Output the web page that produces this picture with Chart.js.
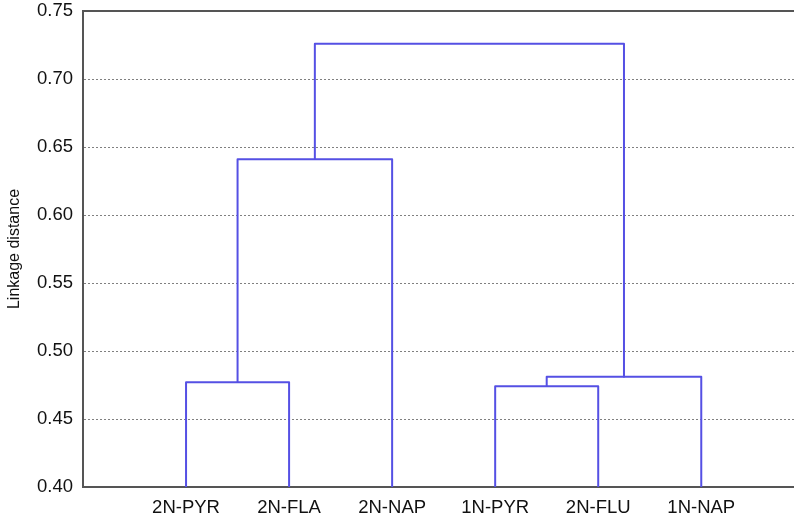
<!DOCTYPE html>
<html>
<head>
<meta charset="utf-8">
<script src="https://cdn.jsdelivr.net/npm/chart.js@4/dist/chart.umd.min.js"></script>
<style>
html,body{margin:0;padding:0;background:#fff;}
#c{display:block;}
</style>
</head>
<body>
<canvas id="c" width="794" height="521"></canvas>
<script>
// Leaves (in dendrogram order)
const leaves = ['2N-PYR', '2N-FLA', '2N-NAP', '1N-PYR', '2N-FLU', '1N-NAP'];
// Merge steps: cluster ids 0..5 are leaves, 6.. are merged clusters in order
const mergeA = [0, 3, 7, 6, 9];
const mergeB = [1, 4, 5, 2, 8];
const mergeHeight = [0.477, 0.474, 0.481, 0.641, 0.726];
// Y axis ticks
const yTicks = [0.40, 0.45, 0.50, 0.55, 0.60, 0.65, 0.70, 0.75];
const baseHeight = 0.40;

// build cluster positions
const clusterX = leaves.map((_, i) => i + 1);
const clusterH = leaves.map(() => baseHeight);
const datasets = [];
for (let k = 0; k < mergeA.length; k++) {
  const a = mergeA[k], b = mergeB[k], h = mergeHeight[k];
  datasets.push({
    data: [
      {x: clusterX[a], y: clusterH[a]},
      {x: clusterX[a], y: h},
      {x: clusterX[b], y: h},
      {x: clusterX[b], y: clusterH[b]}
    ]
  });
  clusterX.push((clusterX[a] + clusterX[b]) / 2);
  clusterH.push(h);
}
datasets.forEach(d => {
  d.borderColor = '#5550e4';
  d.borderWidth = 2;
  d.pointRadius = 0;
  d.tension = 0;
  d.fill = false;
  d.showLine = true;
  d.borderJoinStyle = 'round';
});

const FONT = '"Liberation Sans", Arial, sans-serif';
new Chart(document.getElementById('c'), {
  type: 'line',
  data: { datasets },
  options: {
    responsive: false,
    devicePixelRatio: 1,
    animation: false,
    layout: { padding: { top: 11, right: 0, left: 0, bottom: 0 } },
    plugins: { legend: { display: false }, tooltip: { enabled: false } },
    scales: {
      x: {
        type: 'linear',
        min: 0,
        max: 6.9,
        afterBuildTicks: s => { s.ticks = leaves.map((_, i) => ({ value: i + 1 })); },
        afterFit: s => { s.height = 34; s.paddingLeft = 0; s.paddingRight = 0; },
        ticks: {
          autoSkip: false,
          maxRotation: 0,
          padding: 10,
          color: '#111',
          font: { family: FONT, size: 18.5 },
          callback: (v) => leaves[Math.round(v) - 1] || ''
        },
        grid: { display: false, drawTicks: false },
        border: { display: true, color: '#555', width: 2 }
      },
      xTop: {
        type: 'linear',
        position: 'top',
        min: 0,
        max: 6.9,
        afterFit: s => { s.height = 0; s.paddingLeft = 0; s.paddingRight = 0; },
        ticks: { display: false },
        grid: { display: false, drawTicks: false },
        border: { display: true, color: '#555', width: 2 }
      },
      y: {
        type: 'linear',
        min: 0.40,
        max: 0.75,
        afterBuildTicks: s => { s.ticks = yTicks.map(v => ({ value: v })); },
        afterFit: s => { s.width = 83; s.paddingTop = 0; s.paddingBottom = 0; },
        ticks: {
          padding: 10,
          color: '#111',
          font: { family: FONT, size: 18.5 },
          callback: v => Number(v).toFixed(2)
        },
        grid: { display: true, drawTicks: false, color: '#808080', lineWidth: 1 },
        border: { display: true, color: '#555', width: 2, dash: [2, 2] },
        title: {
          display: true,
          text: 'Linkage distance',
          color: '#111',
          font: { family: FONT, size: 16 },
          padding: { top: 5, bottom: 0 }
        }
      }
    }
  }
});
</script>
</body>
</html>
